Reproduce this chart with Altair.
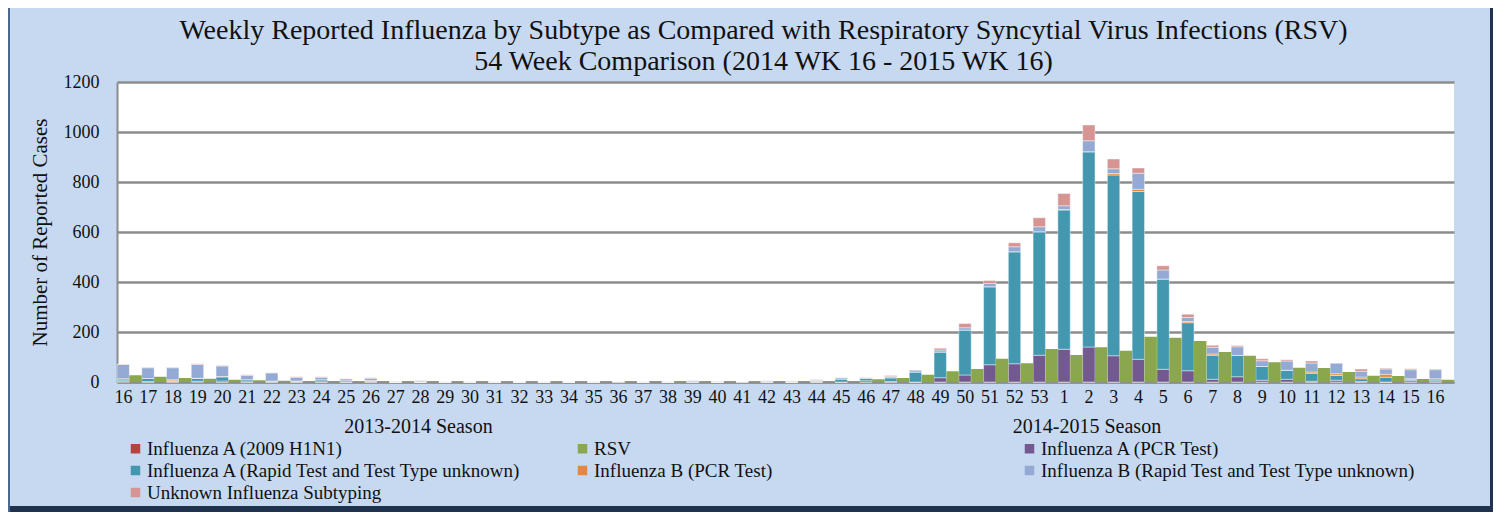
import altair as alt
import pandas as pd

weeks = [str(w) for w in range(16, 54)] + [str(w) for w in range(1, 17)]

h1n1 = [1, 0, 0, 1, 0, 0, 0, 0, 0, 0, 0, 0, 0, 0, 0, 0, 0, 0, 0, 0, 0, 0, 0, 0, 0, 0, 0, 0, 0, 0, 0, 0, 0, 0, 0, 0, 0, 0,
        0, 0, 0, 0, 0, 0, 0, 0, 0, 0, 0, 0, 0, 0, 0, 0]
a_pcr = [3, 2, 2, 2, 4, 1, 1, 1, 1, 0, 1, 0, 0, 0, 0, 0, 0, 0, 0, 0, 0, 0, 0, 0, 0, 1, 0, 0, 0, 0, 5, 2, 0, 17, 28, 69, 73, 107,
         131, 140, 105, 91, 51, 45, 11, 21, 7, 11, 3, 7, 2, 0, 5, 4]
a_rapid = [4, 12, 3, 11, 16, 8, 3, 2, 8, 5, 1, 0, 0, 0, 0, 0, 0, 0, 0, 0, 2, 0, 0, 1, 0, 0, 1, 0, 3, 12, 10, 15, 40, 103, 180, 312, 448, 494,
           557, 781, 723, 671, 361, 192, 96, 85, 55, 36, 32, 19, 11, 19, 4, 4]
b_pcr = [5, 0, 4, 1, 2, 0, 0, 1, 0, 0, 4, 0, 1, 0, 0, 0, 0, 0, 0, 0, 0, 0, 0, 0, 0, 0, 0, 0, 0, 0, 0, 0, 0, 0, 0, 0, 0, 0,
         2, 0, 6, 9, 0, 5, 5, 0, 0, 0, 5, 7, 7, 12, 4, 5]
b_rapid = [57, 43, 48, 55, 42, 18, 33, 15, 10, 8, 9, 1, 3, 1, 1, 1, 0, 1, 0, 1, 1, 1, 1, 4, 1, 1, 3, 2, 3, 5, 3, 5, 8, 8, 9, 13, 20, 20,
           15, 44, 19, 64, 36, 16, 27, 35, 23, 37, 36, 43, 23, 21, 36, 36]
unknown = [2, 2, 2, 3, 2, 2, 0, 2, 2, 0, 2, 1, 2, 0, 0, 0, 0, 0, 0, 0, 0, 0, 0, 1, 1, 0, 1, 2, 3, 1, 1, 4, 0, 7, 17, 12, 16, 36,
           49, 63, 39, 21, 17, 13, 8, 5, 8, 5, 8, 0, 9, 3, 4, 3]
rsv = [27, 21, 16, 13, 9, 7, 5, 3, 3, 2, 2, 1, 1, 1, 1, 0, 0, 1, 0, 0, 1, 4, 2, 1, 1, 1, 2, 2, 3, 4, 11, 16, 29, 43, 52, 93, 75, 132,
       108, 139, 125, 181, 177, 164, 120, 105, 79, 57, 56, 40, 25, 24, 12, 9]

series_names = ["Influenza A (2009 H1N1)", "RSV", "Influenza A (PCR Test)",
                "Influenza A (Rapid Test and Test Type unknown)", "Influenza B (PCR Test)",
                "Influenza B (Rapid Test and Test Type unknown)", "Unknown Influenza Subtyping"]
series_colors = ["#B3443F", "#8AA64F", "#725990", "#4398B0", "#E6873C", "#94A9D3", "#D69593"]

seasons = ["2013-2014 Season", "2014-2015 Season"]
season_week_index = [12, 39]

FONT = "Liberation Serif"
FRAME = "#1F3350"

flu_series = [
    ("Influenza A (2009 H1N1)", h1n1),
    ("Influenza A (PCR Test)", a_pcr),
    ("Influenza A (Rapid Test and Test Type unknown)", a_rapid),
    ("Influenza B (PCR Test)", b_pcr),
    ("Influenza B (Rapid Test and Test Type unknown)", b_rapid),
    ("Unknown Influenza Subtyping", unknown),
]
rows = []
for k, (name, vals) in enumerate(flu_series):
    for i, v in enumerate(vals):
        rows.append({"idx": i, "value": v, "series": name, "order": k, "grp": "flu"})
flu_df = pd.DataFrame(rows)
rsv_df = pd.DataFrame({"idx": list(range(len(rsv))), "value": rsv, "series": "RSV", "order": 0, "grp": "rsv"})
season_df = pd.DataFrame({"idx": season_week_index, "label": seasons})
dummy = pd.DataFrame({"a": [0]})

labels_js = "[" + ",".join("'%s'" % w for w in weeks) + "]"

x_enc = alt.X("idx:O", scale=alt.Scale(paddingInner=0, paddingOuter=0),
              axis=alt.Axis(labelExpr=labels_js + "[datum.value]", labelAngle=0, title=None,
                            ticks=False, labelFont=FONT, labelFontSize=18, labelColor="#111",
                            labelPadding=6, labelOffset=-6, domainColor="#8C8C8C", domainWidth=2,
                            grid=False))
xoff = alt.XOffset("grp:N", scale=alt.Scale(domain=["flu", "rsv"], paddingInner=0, paddingOuter=0))
y_enc = alt.Y("value:Q", stack="zero",
              scale=alt.Scale(domain=[0, 1200]),
              axis=alt.Axis(values=[0, 200, 400, 600, 800, 1000, 1200], format="d",
                            title="Number of Reported Cases",
                            titleFont=FONT, titleFontSize=21, titleFontWeight="normal", titleColor="#111",
                            titlePadding=13, labelFont=FONT, labelFontSize=18, labelColor="#111",
                            labelPadding=18, ticks=False, domainColor="#8C8C8C", domainWidth=2,
                            gridColor="#8C8C8C", gridWidth=2.5))
color_enc = alt.Color("series:N", scale=alt.Scale(domain=series_names, range=series_colors),
                      legend=alt.Legend(orient="none", legendX=9, legendY=357, columns=3,
                                        direction="horizontal", gridAlign="all", title=None,
                                        symbolType="square", symbolSize=90, symbolStrokeWidth=0,
                                        labelFont=FONT, labelFontSize=19, labelColor="#111",
                                        labelLimit=500, labelOffset=2, rowPadding=2, columnPadding=50))

flu = alt.Chart(flu_df).mark_bar(stroke="white", strokeWidth=0.6, strokeOpacity=0.7).encode(
    x=x_enc, xOffset=xoff, y=y_enc, color=color_enc, order=alt.Order("order:Q"))
rsv_bars = alt.Chart(rsv_df).mark_bar().encode(
    x=x_enc, xOffset=xoff, y=y_enc, color=color_enc)
season_text = alt.Chart(season_df).mark_text(font=FONT, fontSize=20, color="#111", dx=-8).encode(
    x=x_enc, y=alt.value(345), text="label:N")

frame_bottom = alt.Chart(dummy).mark_rule(color=FRAME, strokeWidth=6).encode(
    x=alt.value(-109), x2=alt.value(1376), y=alt.value(427))
frame_right = alt.Chart(dummy).mark_rule(color=FRAME, strokeWidth=3).encode(
    x=alt.value(1374.5), y=alt.value(-74), y2=alt.value(430))
frame_left = alt.Chart(dummy).mark_rule(color="#4A6A90", strokeWidth=2).encode(
    x=alt.value(-108), y=alt.value(-74), y2=alt.value(430))

chart = alt.layer(flu, rsv_bars, season_text, frame_bottom, frame_right, frame_left).properties(
    width=1337, height=300,
    title=alt.TitleParams(
        ["Weekly Reported Influenza by Subtype as Compared with Respiratory Syncytial Virus Infections (RSV)",
         "54 Week Comparison (2014 WK 16 - 2015 WK 16)"],
        font=FONT, fontSize=28, fontWeight="normal", color="#111", anchor="middle", dx=-22,
        lineHeight=31, offset=-69, frame="group"),
    autosize=alt.AutoSizeParams(type="none"),
    padding={"left": 109, "top": 74, "right": 39, "bottom": 130},
    background="#C6D9F1",
).configure_view(fill="white", stroke=None)

chart.save("out.html", embed_options={"renderer": "svg", "actions": False})
